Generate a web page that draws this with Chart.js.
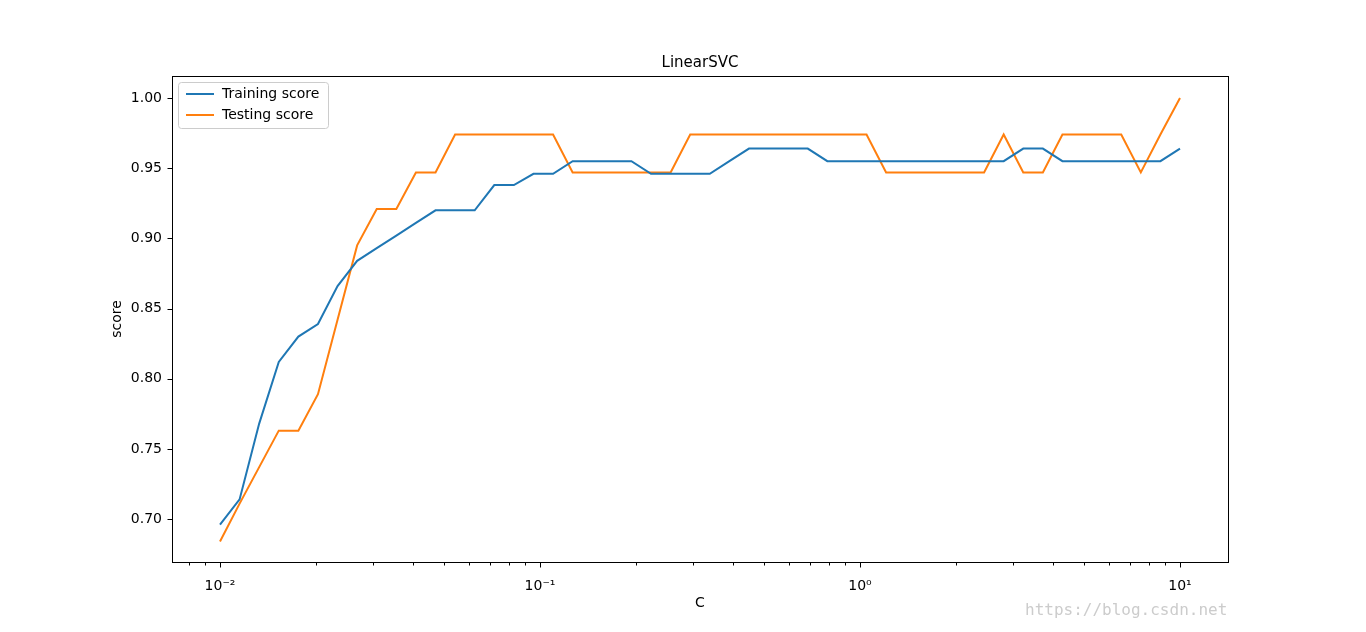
<!DOCTYPE html>
<html><head><meta charset="utf-8">
<script src="https://cdn.jsdelivr.net/npm/chart.js@4"></script>
<style>body{margin:0;background:#fff;overflow:hidden}#wm{position:absolute;left:1025px;top:600px;font:16px "DejaVu Sans Mono",monospace;color:#ccc}</style>
</head><body>
<canvas id="c" width="1366" height="632"></canvas>
<div id="wm">https://blog.csdn.net</div>
<script>
const exponents = Array.from({length:50},(_, i)=>i);
const C = exponents.map(i=>Math.pow(10,-2+3*i/49));
const trainScore = [0.696,0.714,0.768,0.812,0.830,0.839,0.866,0.884,0.893,0.902,0.911,0.920,0.920,0.920,0.938,0.938,0.946,0.946,0.955,0.955,0.955,0.955,0.946,0.946,0.946,0.946,0.955,0.964,0.964,0.964,0.964,0.955,0.955,0.955,0.955,0.955,0.955,0.955,0.955,0.955,0.955,0.964,0.964,0.955,0.955,0.955,0.955,0.955,0.955,0.964];
const testScore = [0.684,0.711,0.737,0.763,0.763,0.789,0.842,0.895,0.921,0.921,0.947,0.947,0.974,0.974,0.974,0.974,0.974,0.974,0.947,0.947,0.947,0.947,0.947,0.947,0.974,0.974,0.974,0.974,0.974,0.974,0.974,0.974,0.974,0.974,0.947,0.947,0.947,0.947,0.947,0.947,0.974,0.947,0.947,0.974,0.974,0.974,0.974,0.947,0.974,1.000];
const yTicks = [0.70,0.75,0.80,0.85,0.90,0.95,1.00];
const xMajor = [0.01,0.1,1,10];
const xLabels = {0.01:'10\u207B\u00B2',0.1:'10\u207B\u00B9',1:'10\u2070',10:'10\u00B9'};
const FONT = '"DejaVu Sans"';
Chart.defaults.font.family = FONT;
Chart.defaults.color = '#000';

const frame = {id:'frame', afterDatasetsDraw(ch){const a=ch.chartArea,x=ch.ctx;x.save();x.strokeStyle='#000';x.lineWidth=1;
 const L=Math.round(a.left)+0.5,T=Math.round(a.top)+0.5,R=Math.round(a.right)+0.5,B=Math.round(a.bottom)+0.5;
 x.strokeRect(L,T,R-L,B-T);
 x.beginPath();
 ch.scales.x.ticks.forEach(t=>{const px=Math.round(ch.scales.x.getPixelForValue(t.value))+0.5;x.moveTo(px,B);x.lineTo(px,B+(t.major?5:3));});
 ch.scales.y.ticks.forEach(t=>{const py=Math.round(ch.scales.y.getPixelForValue(t.value))+0.5;x.moveTo(L,py);x.lineTo(L-5,py);});
 x.stroke();
 x.fillStyle='#000';x.font='15px '+FONT;x.textAlign='center';x.textBaseline='alphabetic';
 x.fillText('LinearSVC',(a.left+a.right)/2,a.top-9);
 x.font='14px '+FONT;x.fillText('C',(a.left+a.right)/2,a.bottom+45);
 x.save();x.translate(121,(a.top+a.bottom)/2);x.rotate(-Math.PI/2);x.fillText('score',0,0);x.restore();
 const lx=a.left+6, ly=a.top+6;
 x.textAlign='left';
 x.fillStyle='rgba(255,255,255,0.8)';x.strokeStyle='#ccc';x.beginPath();x.roundRect(lx+0.5,ly+0.5,150,46,3);x.fill();x.stroke();
 x.font='14px '+FONT;x.textBaseline='middle';x.lineWidth=2;
 ch.data.datasets.forEach((d,i)=>{const yy=ly+12+i*21;x.strokeStyle=d.borderColor;x.beginPath();x.moveTo(lx+8,yy);x.lineTo(lx+36,yy);x.stroke();x.fillStyle='#000';x.fillText(d.label,lx+44,yy);});
 x.restore();}};

new Chart(document.getElementById('c'),{
 type:'line',
 data:{datasets:[
  {label:'Training score',data:C.map((c,i)=>({x:c,y:trainScore[i]})),borderColor:'#1f77b4',borderWidth:2,pointRadius:0,tension:0},
  {label:'Testing score',data:C.map((c,i)=>({x:c,y:testScore[i]})),borderColor:'#ff7f0e',borderWidth:2,pointRadius:0,tension:0}]},
 options:{responsive:false,animation:false,
  layout:{padding:{left:0,right:138,top:76,bottom:0}},
  plugins:{legend:{display:false},tooltip:{enabled:false},title:{display:false}},
  scales:{
   x:{type:'logarithmic',min:Math.pow(10,-2.15),max:Math.pow(10,1.15),
    afterBuildTicks(s){const t=[];for(let e=-3;e<=1;e++)for(let m=1;m<10;m++){const v=m*Math.pow(10,e);if(v>=s.min&&v<=s.max)t.push({value:v,major:m===1});}s.ticks=t;},
    afterFit(s){s.height=70;},
    ticks:{autoSkip:false,maxRotation:0,font:{size:14},padding:8,callback:(v)=>{for(const k of xMajor){if(Math.abs(v-k)/k<1e-6)return xLabels[k];}return '';}},
    grid:{display:false},border:{display:false}},
   y:{min:0.6694,max:1.0157,
    afterBuildTicks(s){s.ticks=yTicks.map(v=>({value:v}));},
    afterFit(s){s.width=172;},
    ticks:{font:{size:14},padding:2,callback:v=>v.toFixed(2)},
    grid:{display:false},border:{display:false}}
  }},
 plugins:[frame]});
</script>
</body></html>
